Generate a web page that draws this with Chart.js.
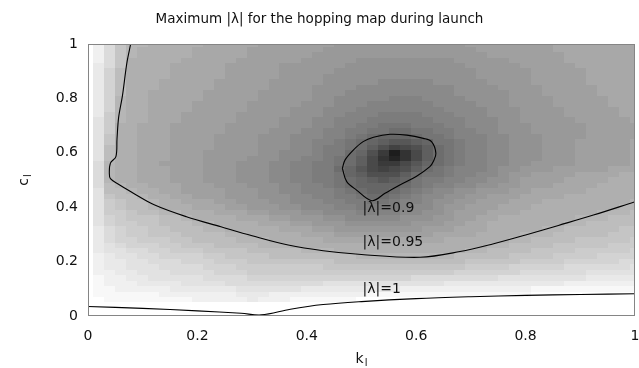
<!DOCTYPE html>
<html>
<head>
<meta charset="utf-8">
<script src="https://cdn.jsdelivr.net/npm/chart.js@4.4.1/dist/chart.umd.min.js"></script>
<style>
  html, body { margin: 0; padding: 0; background: #fff; }
  #wrap { width: 639px; height: 368px; }
</style>
</head>
<body>
<div id="wrap"><canvas id="hopChart" width="639" height="368"></canvas></div>
<script>
// grid cell centres (k along x, c along y, top row first)
const kCenters = [0.02,0.04,0.06,0.08,0.10,0.12,0.14,0.16,0.18,0.20,0.22,0.24,0.26,0.28,0.30,0.32,0.34,0.36,0.38,0.40,
  0.42,0.44,0.46,0.48,0.50,0.52,0.54,0.56,0.58,0.60,0.62,0.64,0.66,0.68,0.70,0.72,0.74,0.76,0.78,0.80,
  0.82,0.84,0.86,0.88,0.90,0.92,0.94,0.96,0.98,1.00];
const cCenters = [1.00,0.98,0.96,0.94,0.92,0.90,0.88,0.86,0.84,0.82,0.80,0.78,0.76,0.74,0.72,0.70,0.68,0.66,0.64,0.62,
  0.60,0.58,0.56,0.54,0.52,0.50,0.48,0.46,0.44,0.42,0.40,0.38,0.36,0.34,0.32,0.30,0.28,0.26,0.24,0.22,
  0.20,0.18,0.16,0.14,0.12,0.10,0.08,0.06];

// max |lambda| per cell, one char per cell: |lambda| = 0.825 + 0.005 * index in LEVELS
const LEVELS = '0123456789ABCDEFGHIJKLMNOPQRSTUVWXYZ';
const lambdaRows = [
  'XURPPOOOOONNNNNMMMMMMMLLLLLLLLLLLLMMMMMMMMNNNNNNNN',
  'XURPOOOOONNNNNMMMMMMMLLLLLLLLLLLLLLMMMMMMMNNNNNNNN',
  'XURPOOOOONNNNNMMMMMMLLLLLLLLLLLLLLLLMMMMMMMNNNNNNN',
  'XUROOOOONNNNNMMMMMMLLLLLKKKKKKKKKLLLLLMMMMMNNNNNNN',
  'WUROOOONNNNNMMMMMLLLLLLKKKKKKKKKKKLLLLLMMMMMNNNNNN',
  'WTQOOOONNNNNMMMMMLLLLLKKKKKKKKKKKKKLLLLLMMMMMNNNNN',
  'WTQOOOONNNNNMMMMMLLLLKKKKKKKKKKKKKKLLLLLMMMMMNNNNN',
  'WTQOOONNNNNMMMMMLLLLLKKKKKJJJJJKKKKKLLLLMMMMMNNNNN',
  'WTQOOONNNNNMMMMMLLLLKKKKJJJJJJJJJKKKKLLLLMMMMMNNNN',
  'WTQOONNNNNMMMMMLLLLLKKKJJJJJJJJJJKKKKKLLLMMMMMNNNN',
  'WTPOONNNNNMMMMMLLLLLKKJJJJJIIIJJJJKKKKLLLLMMMMMNNN',
  'WTPOONNNNMMMMMLLLLLKKKJJJIIIIIIJJJJKKKLLLLMMMMMNNN',
  'WTPOONNNNMMMMMLLLLKKKJJJIIIIIIIIJJJJKKKLLLLMMMMMNN',
  'WSPOONNNMMMMMLLLLLKKKJJIIIHHHHIIIJJJKKKLLLLMMMMMNN',
  'VSPOONNNMMMMMLLLLKKKJJIIIHHHHHHIIIJJJKKLLLLLMMMMMN',
  'VSOONNNMMMMMLLLLLKKKJJIIHHGGGHHHIIJJJKKKLLLLLMMMMM',
  'VSOONNNMMMMMLLLLKKKJJIIHHGGFFGGHHIIJJKKKLLLLLMMMMM',
  'VROONNNMMMMLLLLKKKJJJIIHGFEEEFGGHIIIJJKKKLLLLMMMMM',
  'VROONNNMMMMLLLLKKKJJIIHGFEDCCDEGGHIIJJKKKLLLMMMMMN',
  'VQOONNNMMMMLLLLKKKJJIHHGFDB9ABDFGHIIJJKKKLLLMMMMMN',
  'VQOONNNMMMLLLLLKKJJJIHHFEB847ADFGHIIJJKKKLLLMMMMMN',
  'VQOONNNMMMLLLLKKKJJIIHGFDA757ADFGHIIJJKKKLLLMMMMMN',
  'UPOONNMMMMLLLKKKJJIIHHGFDA88ACEFGHIIJJKKLLLLMMMMMN',
  'UPOONNNMMMLLLKKKJJIIHHFECA9ABDFGHIIIJKKLLLMMMMMNNN',
  'UPOONNNMMMLLLKKKJJIIHHGEDBBBDFGGHIIJJKLLMMMMNNNNOO',
  'UPOONNNMMMLLLKKKJJIIHHGFEDCDEGHHIIJJKKLMMMMNNNNOOO',
  'UQPOONNNMMMLLLKKKJJIIHGFEEEEFGHIIJJKKLLMMMNNNNOOOO',
  'VQQPOONNMMMMLLLKKJJIIIHGFEEFGHIJJKKLLLMMNNNNNOOOOO',
  'VRQQPOONNMMMLLLKKKJJIIHHGFFGHIJJKKLLMMMNNNNOOOOOOO',
  'VSRQQPOONNNMMLLLKKJJJIIHHGGHIIJKKLLMMMNNNOOOOOOOOP',
  'VSRQQPOOONNNMMLLLKKJJJIIHHHHIJJKLLMMMNNNOOOOOOOOPP',
  'VSSRQQPPOOONNNMMLLLKKJJJIIIIJJKKLMMMNNNOOOOOOOPPPQ',
  'VTSRRRQQPOOOONNNMMLLLKKJJJJJKKKLLMMNNOOOOOOOPPPQQQ',
  'VTSSRRQQQPPOOOONNNMMLLLKKKKKKLLLMMNNOOOOOOOPPQQQQQ',
  'WUTSSRRQQQPPOOOOONNNMMLLLLLLLLMMMNNNOOOOOPPQQQQQRR',
  'WUTSSRRRQQQQPPOOOOONNNMMMMMMMMMNNNNOOOOPPPQQQQQRRR',
  'WUTTSSSRRQQQQPPPOOOOONNNNNNNNNNNOOOOOOPPQQQQRRRRRS',
  'WVUTTTSSRRRQQQQPPPOOOOOOOOOOOOOOOOOOPPQQQQRRRRRSSS',
  'WVVUUTTSSSRRRRQQQQQPPPOOOOOOOOOOOOPPQQQQRRRRSSSSST',
  'XWVVUUTTTTSSRRRRQQQQQQQQPPPPPPPPPQQQQQRRRRSSSSTTTT',
  'XWWVVUUUTTTSSSRRRRRRRRQQQQQQQQQQQQRRRRRSSSSTTTTTUU',
  'XWWVVVUUUUTTTSSSSSSSSRRRRRRRRRRRRRSSSSTTTTTUUUUUUV',
  'XXWWVVVUUUUTTTSSSSSSSSSSSSSSSSSSSTTTTTTUUUUUUVVVVV',
  'YXXWWVVVVVUUUUTTTTTTTTTTTTTTTUUUUUUUUVVVVVVVVWWWWW',
  'YXXXWWWWVVVVUUUUUUUUUVVVVVVVVVVVWWWWWWWWWWWXXXXXXX',
  'YYXXXXXWWWWWWVVVVVVWWWWWWWWWXXXXXXXXXXXXYYYYYYYYYY',
  'YYYYYYXXXXXXXWWWXXXXXXXXXYYYYYYYYYYYYYYYZZZZZZZZZZ',
  'ZYYYYYYYYXXXXXWXXXYYYYYYZZZZZZZZZZZZZZZZZZZZZZZZZZ'
];
const LAMBDA_MIN = 0.825, LAMBDA_MAX = 1.0;

// contour lines [k, c]
const contour100 = [[0,0.035],[0.1,0.028],[0.2,0.019],[0.28,0.01],[0.317,0.004],[0.37,0.025],[0.43,0.042],
  [0.5,0.053],[0.6,0.064],[0.7,0.071],[0.8,0.076],[0.9,0.079],[1.0,0.082]];
const contour095 = [[0.078,1.0],[0.071,0.93],[0.063,0.81],[0.056,0.73],[0.053,0.65],[0.051,0.586],[0.041,0.562],
  [0.039,0.525],[0.041,0.505],[0.055,0.485],[0.08,0.455],[0.122,0.408],[0.18,0.365],[0.243,0.328],[0.3,0.295],
  [0.366,0.261],[0.43,0.24],[0.5,0.226],[0.607,0.216],[0.68,0.237],[0.74,0.265],[0.8,0.298],[0.86,0.333],
  [0.924,0.371],[1.0,0.42]];
const contour090 = [[0.465,0.543],[0.47,0.574],[0.485,0.61],[0.503,0.641],[0.522,0.657],[0.552,0.668],[0.583,0.665],
  [0.613,0.653],[0.628,0.641],[0.636,0.598],[0.631,0.567],[0.625,0.549],[0.6,0.513],[0.57,0.482],[0.543,0.451],
  [0.519,0.424],[0.491,0.463],[0.473,0.494],[0.465,0.543]];
const contourLabels = [
  { text: '|λ|=0.9', k: 0.502, c: 0.397 },
  { text: '|λ|=0.95', k: 0.502, c: 0.27 },
  { text: '|λ|=1', k: 0.502, c: 0.099 }
];
const tickValues = [0, 0.2, 0.4, 0.6, 0.8, 1];

const FONT = '"DejaVu Sans", sans-serif';

const heatmap = {
  id: 'heatmap',
  beforeDatasetsDraw(chart) {
    const { ctx, chartArea: a, scales: { x, y } } = chart;
    ctx.save();
    ctx.beginPath();
    ctx.rect(a.left, a.top, a.width, a.height);
    ctx.clip();
    lambdaRows.forEach((row, j) => {
      const c = cCenters[j];
      const y0 = Math.round(y.getPixelForValue(c + 0.01));
      const y1 = Math.round(y.getPixelForValue(c - 0.01));
      for (let i = 0; i < kCenters.length; i++) {
        const idx = LEVELS.indexOf(row[i]);
        if (idx < 0) continue;
        const lam = 0.825 + 0.005 * idx;
        const t = Math.min(1, Math.max(0, (lam - LAMBDA_MIN) / (LAMBDA_MAX - LAMBDA_MIN)));
        const g = Math.round(255 * t);
        const x0 = Math.round(x.getPixelForValue(kCenters[i] - 0.01));
        const x1 = Math.round(x.getPixelForValue(kCenters[i] + 0.01));
        ctx.fillStyle = `rgb(${g},${g},${g})`;
        ctx.fillRect(x0, y0, x1 - x0, y1 - y0);
      }
    });
    ctx.restore();
  },
  afterDatasetsDraw(chart) {
    const { ctx, scales: { x, y } } = chart;
    ctx.save();
    ctx.fillStyle = '#111';
    ctx.font = '14px ' + FONT;
    ctx.textAlign = 'left';
    ctx.textBaseline = 'middle';
    contourLabels.forEach(l => ctx.fillText(l.text, x.getPixelForValue(l.k), y.getPixelForValue(l.c)));
    ctx.restore();
  },
  afterDraw(chart) {
    const { ctx, chartArea: a } = chart;
    ctx.save();
    ctx.strokeStyle = '#858585';
    ctx.lineWidth = 1;
    ctx.strokeRect(a.left + 0.5, a.top + 0.5, a.width - 1, a.height - 1);

    ctx.fillStyle = '#111';
    ctx.textBaseline = 'alphabetic';
    ctx.textAlign = 'center';
    ctx.font = '13.5px ' + FONT;
    ctx.fillText('Maximum |λ| for the hopping map during launch', 319.5, 23);

    // x axis title k_l
    ctx.textAlign = 'left';
    ctx.font = '14px ' + FONT;
    const wk = ctx.measureText('k').width;
    ctx.font = '10px ' + FONT;
    const wl = ctx.measureText('l').width;
    const cx = (a.left + a.right) / 2;
    let sx = cx - (wk + wl + 1) / 2;
    ctx.font = '14px ' + FONT;
    ctx.fillText('k', sx, 363);
    ctx.font = '10px ' + FONT;
    ctx.fillText('l', sx + wk + 1, 366);

    // y axis title c_l
    ctx.translate(28, (a.top + a.bottom) / 2);
    ctx.rotate(-Math.PI / 2);
    ctx.font = '14px ' + FONT;
    const wc = ctx.measureText('c').width;
    sx = -(wc + wl + 1) / 2;
    ctx.fillText('c', sx, 0);
    ctx.font = '10px ' + FONT;
    ctx.fillText('l', sx + wc + 1, 3);
    ctx.restore();
  }
};

const toPoints = arr => arr.map(p => ({ x: p[0], y: p[1] }));
const contourSet = pts => ({
  data: toPoints(pts),
  showLine: true,
  borderColor: '#000',
  borderWidth: 1.1,
  pointRadius: 0,
  tension: 0.35,
  fill: false
});

const axisTicks = {
  color: '#111',
  font: { family: FONT, size: 14 },
  autoSkip: false,
  maxRotation: 0,
  callback: v => String(Math.round(v * 10) / 10)
};

new Chart(document.getElementById('hopChart').getContext('2d'), {
  type: 'scatter',
  data: {
    datasets: [contourSet(contour100), contourSet(contour095), contourSet(contour090)]
  },
  options: {
    responsive: false,
    animation: false,
    layout: { padding: { top: 44, right: 4, left: 0, bottom: 0 } },
    plugins: { legend: { display: false }, tooltip: { enabled: false }, title: { display: false } },
    scales: {
      x: {
        type: 'linear', min: 0, max: 1,
        afterBuildTicks: s => { s.ticks = tickValues.map(v => ({ value: v })); },
        afterFit: s => { s.height = 52; s.paddingLeft = 0; s.paddingRight = 0; },
        grid: { display: false, drawTicks: false },
        border: { display: false },
        ticks: { ...axisTicks, padding: 12 }
      },
      y: {
        type: 'linear', min: 0, max: 1,
        afterBuildTicks: s => { s.ticks = tickValues.map(v => ({ value: v })); },
        afterFit: s => { s.width = 88; },
        grid: { display: false, drawTicks: false },
        border: { display: false },
        ticks: { ...axisTicks, padding: 10 }
      }
    }
  },
  plugins: [heatmap]
});
</script>
</body>
</html>
